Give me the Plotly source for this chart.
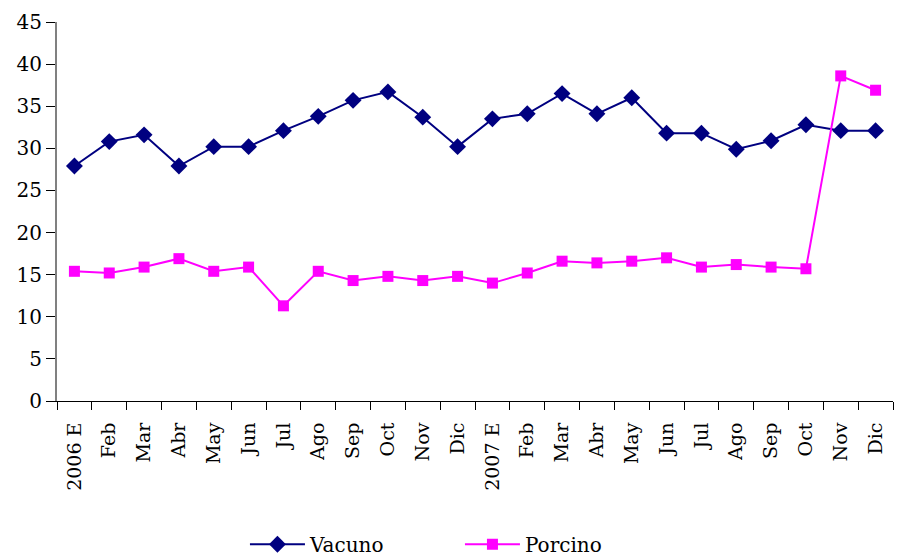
import plotly.graph_objects as go

categories = ["2006 E", "Feb", "Mar", "Abr", "May", "Jun", "Jul", "Ago", "Sep", "Oct", "Nov", "Dic",
              "2007 E", "Feb", "Mar", "Abr", "May", "Jun", "Jul", "Ago", "Sep", "Oct", "Nov", "Dic"]
vacuno = [27.9, 30.8, 31.6, 27.9, 30.2, 30.2, 32.1, 33.8, 35.7, 36.7, 33.7, 30.2,
          33.5, 34.1, 36.5, 34.1, 36.0, 31.8, 31.8, 29.9, 30.9, 32.8, 32.1, 32.1]
porcino = [15.4, 15.2, 15.9, 16.9, 15.4, 15.9, 11.3, 15.4, 14.3, 14.8, 14.3, 14.8,
           14.0, 15.2, 16.6, 16.4, 16.6, 17.0, 15.9, 16.2, 15.9, 15.7, 38.6, 36.9]
y_ticks = [0, 5, 10, 15, 20, 25, 30, 35, 40, 45]

FONT = "DejaVu Serif"
x = list(range(len(categories)))

fig = go.Figure()
fig.add_trace(go.Scatter(
    x=x, y=vacuno, name="Vacuno", mode="lines+markers",
    line=dict(color="#000080", width=2),
    marker=dict(symbol="diamond", size=13, color="#000080"),
))
fig.add_trace(go.Scatter(
    x=x, y=porcino, name="Porcino", mode="lines+markers",
    line=dict(color="#FF00FF", width=2),
    marker=dict(symbol="square", size=11, color="#FF00FF"),
))

fig.update_layout(
    width=902, height=557,
    margin=dict(l=57, r=9, t=22, b=156, autoexpand=False),
    paper_bgcolor="white", plot_bgcolor="white",
    font=dict(family=FONT, size=18, color="black"),
    showlegend=True,
    legend=dict(orientation="h", x=0.482, xanchor="center", y=-0.378, yanchor="middle",
                font=dict(family=FONT, size=20, color="black"),
                entrywidth=145, entrywidthmode="pixels", itemwidth=55),
)
fig.update_xaxes(
    automargin=False,
    type="linear", range=[-0.5, len(categories) - 0.5],
    tickmode="array", tickvals=x, ticktext=categories,
    tickangle=-90, showgrid=False, zeroline=False,
    showline=True, linecolor="black", linewidth=1,
    ticks="outside", ticklen=13, tickcolor="rgba(0,0,0,0)",
    tickfont=dict(family=FONT, size=19),
)
# boundary ticks between categories
fig.update_xaxes(minor=dict(tickmode="array", tickvals=[i - 0.5 for i in range(len(categories) + 1)],
                            ticks="outside", ticklen=8, tickcolor="black", tickwidth=1, showgrid=False))
fig.update_yaxes(
    automargin=False,
    range=[0, 45], tickmode="array", tickvals=y_ticks,
    showgrid=False, zeroline=False,
    showline=True, linecolor="#808080", linewidth=2,
    ticks="outside", ticklen=9, tickcolor="black", tickwidth=1,
    tickfont=dict(family=FONT, size=20),
)

fig.write_html("out.html", config={"displayModeBar": False},
               post_script="document.body.style.margin='0';")
